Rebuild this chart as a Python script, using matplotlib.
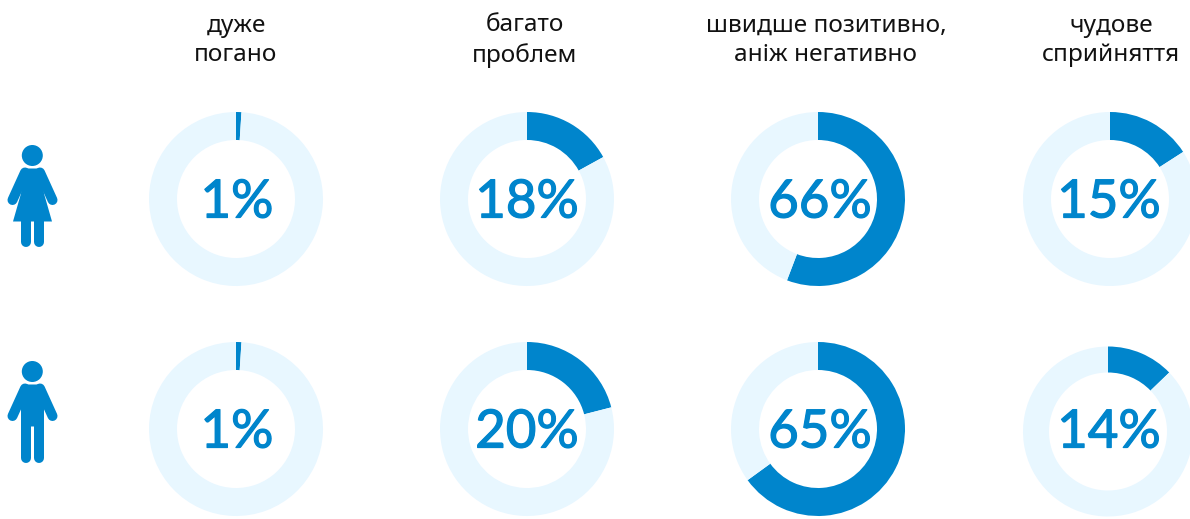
import matplotlib
matplotlib.use('Agg')
from matplotlib import pyplot as plt
from matplotlib import patheffects
from matplotlib.patches import Circle, Polygon

W, H = 1190, 519
BLUE = '#0085CC'
PALE = '#E8F7FF'
FONT = ['Lato', 'Noto Sans', 'DejaVu Sans']
LABEL_FONT = ['Noto Sans', 'DejaVu Sans']

headers = ['дуже\nпогано', 'багато\nпроблем', 'швидше позитивно,\nаніж негативно', 'чудове\nсприйняття']
# printed numbers
women_labels = ['1%', '18%', '66%', '15%']
men_labels = ['1%', '20%', '65%', '14%']
# share of the ring actually filled (differs a bit from the printed numbers)
women_arc = [1, 17, 55.8, 15.9]
men_arc = [1, 21, 65, 12.8]

header_x = [236, 525, 826, 1111]
col_x = [236, 527, 818, 1110]
men_x = [236, 527, 818, 1108]
men_y = [429, 429, 429, 431.5]
men_r = [87, 87, 87, 85]
men_ring = [28, 28, 28, 26]
men_text_x = [237, 527, 820, 1109]
women_text_x = [237, 527, 820, 1109]
women_y = 199
R = 87
RING = 28


def Y(y):
    # picture coordinates have y going down
    return H - y


def donut(ax, x, y, r, ring, arc):
    ax.pie([arc, 100 - arc], colors=[BLUE, PALE], center=(x, Y(y)), radius=r,
           startangle=90, counterclock=False, wedgeprops=dict(width=ring, linewidth=0))


def pct(ax, x, y, label):
    # no medium weight installed, so thicken the regular one a little
    t = ax.text(x, Y(y), label, color=BLUE, fontsize=38, family=FONT, ha='center', va='center')
    t.set_path_effects([patheffects.withStroke(linewidth=0.9, foreground=BLUE)])


def limb(ax, x0, y0, x1, y1, width=10):
    ax.plot([x0, x1], [Y(y0), Y(y1)], color=BLUE, lw=width * 0.72, solid_capstyle='round')


def person(ax, top, skirt):
    ax.add_patch(Circle((32.3, Y(top + 10.5)), 10.5, color=BLUE, lw=0))
    shoulder = top + 23.5
    limb(ax, 25, shoulder + 4, 12.5, shoulder + 31.5)
    limb(ax, 40, shoulder + 4, 52.5, shoulder + 31.5)
    if skirt:
        pts = [(23, shoulder), (42, shoulder), (44, shoulder + 25), (52, shoulder + 53),
               (13, shoulder + 53), (21, shoulder + 25)]
    else:
        pts = [(23, shoulder), (42, shoulder), (44, shoulder + 10), (44, shoulder + 42),
               (21, shoulder + 42), (21, shoulder + 10)]
    ax.add_patch(Polygon([(px, Y(py)) for px, py in pts], closed=True, color=BLUE, lw=0))
    leg_end = shoulder + 73.5
    limb(ax, 26, shoulder + 40, 26, leg_end)
    limb(ax, 39, shoulder + 40, 39, leg_end)


fig = plt.figure(figsize=(W / 100, H / 100), dpi=100)
ax = fig.add_axes([0, 0, 1, 1])

for x, text in zip(header_x, headers):
    ax.text(x, Y(40.5), text, color='#111111', fontsize=17.6, family=LABEL_FONT, ha='center', va='center',
            linespacing=1.33)

for x, arc in zip(col_x, women_arc):
    donut(ax, x, women_y, R, RING, arc)
for x, y, r, ring, arc in zip(men_x, men_y, men_r, men_ring, men_arc):
    donut(ax, x, y, r, ring, arc)
for x, label in zip(women_text_x, women_labels):
    pct(ax, x, 203, label)
for x, label in zip(men_text_x, men_labels):
    pct(ax, x, 433, label)

person(ax, 145, True)
person(ax, 361, False)

ax.set_xlim(0, W)
ax.set_ylim(0, H)
ax.set_aspect('equal')
ax.axis('off')
fig.savefig('out.png', dpi=100)
